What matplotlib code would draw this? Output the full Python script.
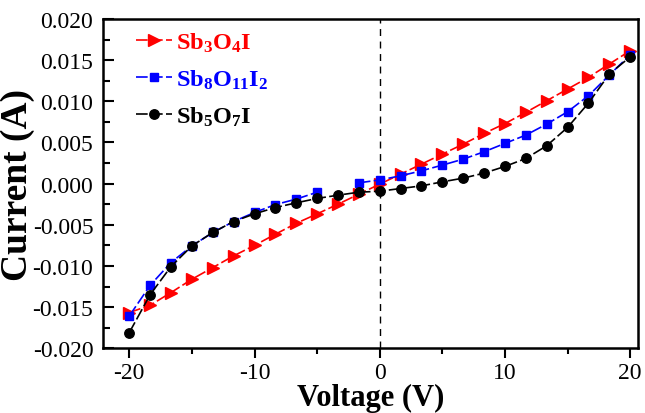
import numpy as np
import matplotlib
matplotlib.use("Agg")
import matplotlib.pyplot as plt
from matplotlib.ticker import MultipleLocator, FormatStrFormatter

plt.rcParams['font.family'] = 'serif'
plt.rcParams['font.serif'] = ['Liberation Serif', 'TeX Gyre Termes', 'DejaVu Serif']
plt.rcParams['mathtext.fontset'] = 'custom'
plt.rcParams['mathtext.rm'] = 'Liberation Serif:bold'
plt.rcParams['mathtext.it'] = 'Liberation Serif:bold'
plt.rcParams['mathtext.bf'] = 'Liberation Serif:bold'
plt.rcParams['mathtext.default'] = 'rm'
plt.rcParams['axes.unicode_minus'] = False

# voltage steps (V)
voltage = [-20, -18.33, -16.67, -15, -13.33, -11.67, -10, -8.33, -6.67, -5, -3.33, -1.67, 0,
           1.67, 3.33, 5, 6.67, 8.33, 10, 11.67, 13.33, 15, 16.67, 18.33, 20]

# current (A)
sb3o4i = [-0.01566, -0.01477, -0.01323, -0.01161, -0.01019, -0.00877, -0.00750, -0.00614,
          -0.00482, -0.00367, -0.00249, -0.00128, -0.00006, 0.00116, 0.00237, 0.00359,
          0.00480, 0.00610, 0.00730, 0.00866, 0.01007, 0.01149, 0.01291, 0.01453, 0.01615]
sb8o11i2 = [-0.01607, -0.01234, -0.00958, -0.00756, -0.00593, -0.00460, -0.00350, -0.00254,
            -0.00188, -0.00104, np.nan, 0.00010, 0.00045, 0.00095, 0.00156, 0.00225,
            0.00298, 0.00387, 0.00489, 0.00590, 0.00723, 0.00873, 0.01068, 0.01319, 0.01565]
sb5o7i = [-0.01809, -0.01347, -0.01007, -0.00756, -0.00593, -0.00460, -0.00367, -0.00290,
          -0.00233, -0.00180, -0.00140, -0.00104, -0.00092, -0.00059, -0.00027, 0.00022,
          0.00067, 0.00128, 0.00209, 0.00306, 0.00460, 0.00683, 0.00979, 0.01331, 0.01540]

labels = [r'Sb$_3$O$_4$I', r'Sb$_8$O$_{11}$I$_2$', r'Sb$_5$O$_7$I']
colors = ['#ff0000', '#0000ff', '#000000']

fig = plt.figure(figsize=(6.45, 4.14), dpi=100)
ax = fig.add_axes([0.1597, 0.1563, 0.829, 0.7954])

ax.axvline(0, color='black', lw=1.0, ls=(0, (5, 4)), zorder=1)

ax.plot(voltage, sb3o4i, color=colors[0], marker='>', ms=8.5, lw=1.2,
        dashes=(7, 2), label=labels[0])
ax.plot(voltage, sb8o11i2, color=colors[1], marker='s', ms=6.2, lw=1.2,
        dashes=(7, 2), label=labels[1])
ax.plot(voltage, sb5o7i, color=colors[2], marker='o', ms=6.8, lw=1.2,
        dashes=(7, 2), label=labels[2])

ax.set_xlim(-22.1, 20.6)
ax.set_ylim(-0.020, 0.020)
ax.xaxis.set_major_locator(MultipleLocator(10))
ax.xaxis.set_minor_locator(MultipleLocator(5))
ax.set_yticks(np.round(np.arange(-0.020, 0.0201, 0.005), 3))
ax.yaxis.set_minor_locator(MultipleLocator(0.0025))
ax.yaxis.set_major_formatter(FormatStrFormatter('%.3f'))

ax.tick_params(axis='x', which='major', direction='out', length=7, width=1.5, labelsize=17, pad=3)
ax.tick_params(axis='x', which='minor', direction='out', length=4, width=1.5)
ax.tick_params(axis='y', which='major', direction='in', length=8, width=1.5, labelsize=17, pad=7)
ax.tick_params(axis='y', which='minor', direction='in', length=5, width=1.5)
for s in ax.spines.values():
    s.set_linewidth(1.8)

ax.set_xlabel('Voltage (V)', fontsize=22, fontweight='bold', labelpad=0)
ax.set_ylabel('Current (A)', fontsize=27, fontweight='bold', labelpad=-2)

leg = ax.legend(loc='upper left', bbox_to_anchor=(0.02, 1.03), frameon=False,
                handlelength=1.5, handletextpad=0.15, labelspacing=0.55,
                prop={'size': 17.5, 'weight': 'bold'})
for t, c in zip(leg.get_texts(), colors):
    t.set_color(c)

fig.savefig('out.png', dpi=100)
